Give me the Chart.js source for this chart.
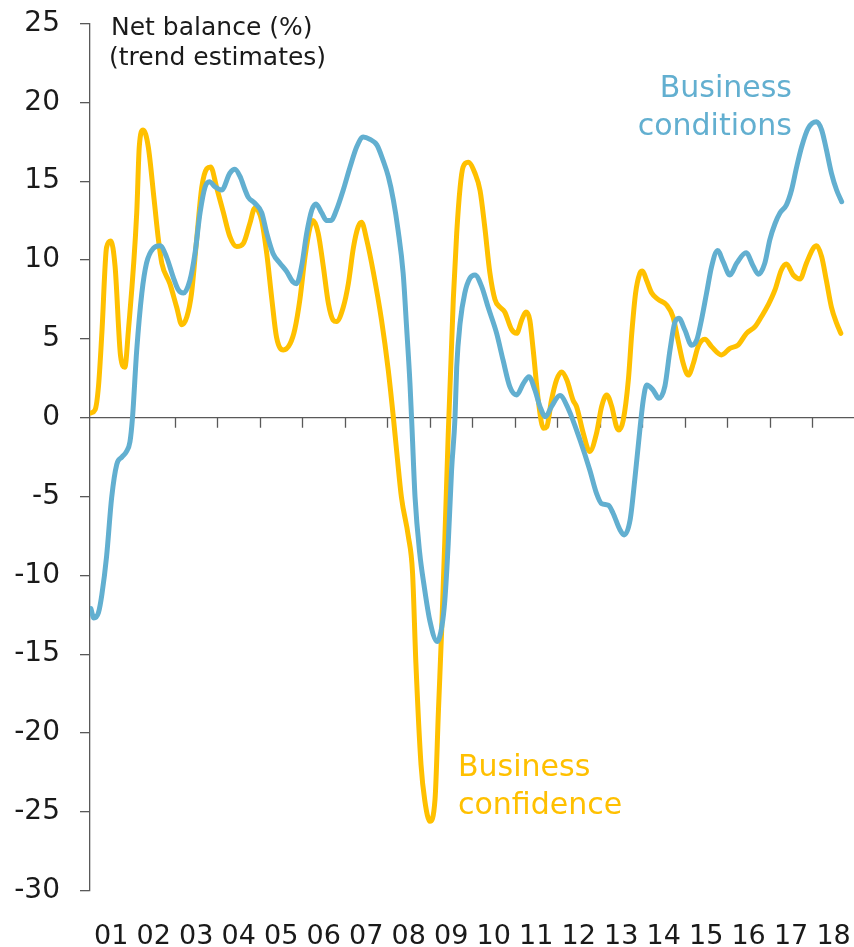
<!DOCTYPE html>
<html>
<head>
<meta charset="utf-8">
<script src="https://cdn.jsdelivr.net/npm/chart.js@4.4.0/dist/chart.umd.min.js"></script>
<style>
  body { margin: 0; background: #fff; }
  #wrap { width: 854px; height: 947px; }
</style>
</head>
<body>
<div id="wrap"><canvas id="myChart" width="854" height="947"></canvas></div>
<script>
// year labels shown under the axis
const yearLabels = ["01","02","03","04","05","06","07","08","09","10","11","12","13","14","15","16","17","18"];

// Business conditions (net balance %, trend) - decimal year / value
const condDates = [2001.02,2001.09,2001.2,2001.28,2001.39,2001.51,2001.63,2001.75,2001.85,2001.94,
  2002.0,2002.1,2002.22,2002.33,2002.49,2002.65,2002.8,2002.96,2003.08,2003.2,
  2003.35,2003.47,2003.59,2003.71,2003.81,2003.94,2004.1,2004.29,2004.41,2004.53,
  2004.65,2004.72,2004.88,2005.04,2005.16,2005.31,2005.47,2005.63,2005.78,2005.86,
  2005.98,2006.1,2006.22,2006.32,2006.45,2006.57,2006.67,2006.8,2006.96,2007.12,
  2007.28,2007.43,2007.59,2007.75,2007.9,2008.02,2008.14,2008.25,2008.37,2008.45,
  2008.53,2008.58,2008.65,2008.76,2008.86,2009.0,2009.17,2009.28,2009.35,2009.43,
  2009.51,2009.59,2009.63,2009.71,2009.82,2009.94,2010.06,2010.22,2010.37,2010.57,
  2010.72,2010.88,2011.04,2011.2,2011.33,2011.47,2011.59,2011.72,2011.86,2012.06,
  2012.25,2012.53,2012.76,2012.92,2013.04,2013.2,2013.31,2013.47,2013.57,2013.71,
  2013.82,2013.94,2014.02,2014.1,2014.25,2014.39,2014.53,2014.65,2014.76,2014.86,
  2015.0,2015.16,2015.28,2015.39,2015.51,2015.63,2015.77,2015.9,2016.06,2016.22,
  2016.44,2016.61,2016.73,2016.88,2017.0,2017.12,2017.24,2017.39,2017.51,2017.63,
  2017.75,2017.9,2018.1,2018.22,2018.33,2018.45,2018.57,2018.69];
const condValues = [-12.1,-12.7,-12.35,-11.2,-8.8,-5.06,-2.96,-2.5,-2.19,-1.53,
  0,4.3,7.9,9.8,10.74,10.9,10.2,8.9,8.1,7.9,
  8.7,10.4,13.0,14.65,14.97,14.65,14.44,15.5,15.75,15.3,
  14.44,14.0,13.6,13.0,11.7,10.4,9.8,9.26,8.6,8.5,
  9.6,11.7,13.17,13.55,13.0,12.5,12.5,13.17,14.44,15.9,
  17.2,17.8,17.65,17.3,16.3,15.3,13.8,11.9,9.15,5.77,
  2.18,-0.78,-5.06,-8.6,-10.6,-12.9,-14.2,-13.25,-11.6,-8.0,
  -3.3,0,3.2,6.0,7.9,8.84,9.05,8.3,7.0,5.35,
  3.66,1.97,1.44,2.18,2.6,1.76,0.7,0.06,0.7,1.4,
  0.6,-1.4,-3.3,-4.8,-5.45,-5.56,-6.06,-7.1,-7.44,-6.5,
  -3.95,-0.78,1.12,2.07,1.76,1.23,2.0,4.3,6.0,6.3,
  5.56,4.6,4.93,6.2,7.9,9.6,10.6,9.9,9.05,9.8,
  10.46,9.6,9.1,9.8,11.3,12.3,13.0,13.5,14.44,15.9,
  17.2,18.35,18.77,18.24,17.0,15.5,14.44,13.7];

// Business confidence (net balance %, trend) - decimal year / value
const confDates = [2001.02,2001.12,2001.2,2001.28,2001.39,2001.49,2001.59,2001.72,2001.82,2001.9,
  2002.1,2002.16,2002.25,2002.37,2002.51,2002.61,2002.69,2002.88,2003.04,2003.16,
  2003.28,2003.39,2003.51,2003.63,2003.75,2003.84,2003.98,2004.14,2004.29,2004.45,
  2004.61,2004.76,2004.88,2005.04,2005.16,2005.28,2005.39,2005.55,2005.71,2005.82,
  2005.94,2006.06,2006.18,2006.25,2006.37,2006.49,2006.61,2006.72,2006.8,2006.96,
  2007.08,2007.2,2007.31,2007.39,2007.51,2007.67,2007.86,2008.02,2008.14,2008.22,
  2008.33,2008.49,2008.59,2008.67,2008.79,2008.88,2009.0,2009.12,2009.2,2009.28,
  2009.35,2009.43,2009.55,2009.63,2009.71,2009.78,2009.9,2010.06,2010.18,2010.29,
  2010.41,2010.53,2010.65,2010.76,2010.92,2011.04,2011.16,2011.26,2011.35,2011.43,
  2011.55,2011.67,2011.75,2011.86,2011.98,2012.1,2012.22,2012.37,2012.45,2012.61,
  2012.76,2012.92,2013.04,2013.16,2013.28,2013.39,2013.45,2013.55,2013.67,2013.75,
  2013.84,2013.94,2014.0,2014.1,2014.22,2014.37,2014.57,2014.72,2014.84,2014.96,
  2015.08,2015.2,2015.31,2015.47,2015.63,2015.86,2016.06,2016.25,2016.45,2016.65,
  2016.8,2016.96,2017.12,2017.27,2017.39,2017.55,2017.71,2017.86,2018.02,2018.1,
  2018.22,2018.33,2018.45,2018.57,2018.67];
const confValues = [0.3,0.5,2.0,5.4,10.8,11.2,9.6,3.9,3.2,5.4,
  13.0,17.2,18.25,17.2,13.8,11.3,9.8,8.5,7.0,5.9,
  6.4,7.9,11.3,14.6,15.8,15.9,14.6,13.0,11.5,10.85,
  11.06,12.3,13.3,12.5,10.4,7.5,5.1,4.3,4.7,5.6,
  7.5,10.2,12.1,12.5,11.7,9.6,7.25,6.2,6.1,7.0,
  8.5,10.8,12.1,12.4,11.3,9.2,6.2,3.0,0,-2.2,
  -5.06,-7.5,-9.8,-15.6,-22.0,-24.3,-25.6,-24.2,-18.6,-13.2,
  -7.8,-1.1,7.5,11.7,14.6,15.9,16.2,15.5,14.4,12.1,
  9.2,7.5,7.0,6.7,5.6,5.35,6.2,6.7,6.2,4.3,
  1.1,-0.67,-0.57,1.1,2.4,2.9,2.4,1.1,0.7,-1.0,
  -2.15,-1.0,0.7,1.44,0.7,-0.57,-0.78,-0.15,2.4,5.35,
  7.9,9.15,9.3,8.7,7.9,7.5,7.15,6.4,4.9,3.45,
  2.7,3.45,4.5,4.97,4.5,3.98,4.4,4.6,5.35,5.77,
  6.4,7.15,8.1,9.37,9.75,9.05,8.8,9.8,10.74,10.9,
  10.2,8.7,7.0,6.0,5.35];

const blue = "#62afd0";
const yellow = "#ffc000";
const axisColor = "#595959";
const fontFamily = "'DejaVu Sans', sans-serif";

const toPoints = (xs, ys) => xs.map((x, i) => ({ x: x, y: ys[i] }));

// zero line with year tick marks, and the text labels
const extras = {
  id: "extras",
  beforeDatasetsDraw(chart) {
    const { ctx, chartArea, scales } = chart;
    const y0 = scales.y.getPixelForValue(0);
    ctx.save();
    ctx.strokeStyle = axisColor;
    ctx.lineWidth = 1.3;
    ctx.beginPath();
    ctx.moveTo(chartArea.left, y0);
    ctx.lineTo(chart.width, y0);
    for (let yr = 2002; yr <= 2018; yr++) {
      const x = Math.round(scales.x.getPixelForValue(yr)) + 0.5;
      ctx.moveTo(x, y0);
      ctx.lineTo(x, y0 + 10);
    }
    ctx.stroke();
    ctx.restore();
  },
  afterDraw(chart) {
    const ctx = chart.ctx;
    ctx.save();
    ctx.textBaseline = "alphabetic";
    ctx.fillStyle = "#1a1a1a";
    ctx.font = "25px " + fontFamily;
    ctx.textAlign = "left";
    ctx.fillText("Net balance (%)", 111, 35);
    ctx.fillText("(trend estimates)", 109, 65);

    ctx.font = "30px " + fontFamily;
    ctx.fillStyle = blue;
    ctx.textAlign = "right";
    ctx.fillText("Business", 792, 97);
    ctx.fillText("conditions", 792, 135);

    ctx.fillStyle = yellow;
    ctx.textAlign = "left";
    ctx.fillText("Business", 458, 776);
    ctx.fillText("confidence", 458, 814);
    ctx.restore();
  }
};

const ctx = document.getElementById("myChart");

const chart = new Chart(ctx, {
  type: "line",
  data: {
    datasets: [
      {
        label: "Business conditions",
        data: toPoints(condDates, condValues),
        borderColor: blue,
        borderWidth: 5,
        pointRadius: 0,
        cubicInterpolationMode: "monotone",
        borderJoinStyle: "round",
        borderCapStyle: "round",
      },
      {
        label: "Business confidence",
        data: toPoints(confDates, confValues),
        borderColor: yellow,
        borderWidth: 5,
        pointRadius: 0,
        cubicInterpolationMode: "monotone",
        borderJoinStyle: "round",
        borderCapStyle: "round",
      },
    ],
  },
  options: {
    responsive: false,
    animation: false,
    events: [],
    layout: { padding: { top: 23.5, right: 0, left: 0, bottom: 0 } },
    plugins: { legend: { display: false }, tooltip: { enabled: false } },
    scales: {
      x: {
        type: "linear",
        min: 2001,
        max: 2018.98,
        grid: { display: false },
        border: { display: false },
        afterBuildTicks: (axis) => {
          axis.ticks = yearLabels.map((l, i) => ({ value: 2001.5 + i }));
        },
        afterFit: (axis) => {
          axis.height = 56.3;
          axis.paddingLeft = 0;
          axis.paddingRight = 0;
        },
        ticks: {
          autoSkip: false,
          maxRotation: 0,
          padding: 22,
          color: "#1a1a1a",
          font: { family: fontFamily, size: 27 },
          callback: (value, index) => yearLabels[index],
        },
      },
      y: {
        min: -30,
        max: 25,
        afterFit: (axis) => {
          axis.width = 90;
          axis.paddingTop = 0;
          axis.paddingBottom = 0;
        },
        grid: { drawOnChartArea: false, tickLength: 10, color: axisColor, lineWidth: 1.3 },
        border: { color: axisColor, width: 1.3 },
        ticks: {
          stepSize: 5,
          padding: 20,
          color: "#1a1a1a",
          font: { family: fontFamily, size: 28 },
        },
      },
    },
  },
  plugins: [extras],
});
</script>
</body>
</html>
